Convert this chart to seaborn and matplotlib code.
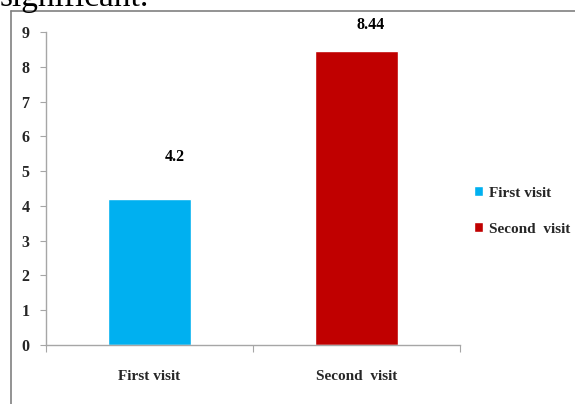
import matplotlib
matplotlib.use("Agg")
import matplotlib.pyplot as plt
from matplotlib.lines import Line2D
import pandas as pd
import seaborn as sns

# Mean scores per visit
visits = ["First visit", "Second  visit"]
scores = [4.2, 8.44]
bar_colors = ["#00B0F0", "#C00000"]
y_ticks = list(range(0, 10))

df = pd.DataFrame({"visit": visits, "score": scores})

sns.set_theme(style="white")
plt.rcParams["font.family"] = ["Liberation Serif", "DejaVu Serif"]

W, H = 575, 404
fig = plt.figure(figsize=(W / 100, H / 100), dpi=100)
fig.patch.set_facecolor("white")

# plot area in pixel units
left_px, right_px, top_px, bottom_px = 46, 460, 32, 345
ax = fig.add_axes([left_px / W, 1 - bottom_px / H,
                   (right_px - left_px) / W, (bottom_px - top_px) / H])

sns.barplot(data=df, x="visit", y="score", hue="visit",
            palette=bar_colors, width=0.4, saturation=1,
            legend=True, ax=ax)

ax.set_xlim(-0.5, 1.5)
ax.set_ylim(0, 9)
ax.set_yticks(y_ticks)
ax.set_yticklabels([str(t) for t in y_ticks], fontsize=11.5, fontweight="bold")
ax.set_xlabel("")
ax.set_ylabel("")

# category labels centred under bars, tick marks at category boundaries
ax.set_xticks([0, 1])
ax.set_xticklabels(visits, fontsize=11, fontweight="bold")
ax.set_xticks([-0.5, 0.5, 1.5], minor=True)
ax.tick_params(axis="x", which="major", length=0, pad=18)
ax.tick_params(axis="x", which="minor", length=5, width=0.8, color="#a6a6a6",
               direction="out", bottom=True)
ax.tick_params(axis="y", length=4, width=0.8, color="#a6a6a6",
               direction="out", left=True, pad=8)

for side in ["top", "right"]:
    ax.spines[side].set_visible(False)
for side in ["left", "bottom"]:
    ax.spines[side].set_color("#a6a6a6")
    ax.spines[side].set_linewidth(1.0)

# value labels above the bars
offsets = [(18, 30), (10, 19)]
for i, (v, off) in enumerate(zip(scores, offsets)):
    ax.annotate(f"{v:g}", xy=(i, v), xytext=off, textcoords="offset points",
                ha="center", va="center", fontsize=11.5, fontweight="bold",
                color="black")

# legend at the right
handles, labels = ax.get_legend_handles_labels()
leg = ax.legend(handles, visits, loc="center left",
                bbox_to_anchor=(474 / W, 1 - 211 / H),
                bbox_transform=fig.transFigure, frameon=False,
                borderpad=0, borderaxespad=0,
                handlelength=0.6, handleheight=0.6, handletextpad=0.35,
                labelspacing=1.5, prop={"family": "Liberation Serif",
                                         "weight": "bold", "size": 11})

# surrounding frame lines
frame_kw = dict(color="#808080", linewidth=1.2, transform=fig.transFigure)
fig.add_artist(Line2D([11 / W, 1.0], [1 - 11 / H, 1 - 11 / H], **frame_kw))
fig.add_artist(Line2D([11 / W, 11 / W], [0.0, 1 - 11 / H], **frame_kw))

# tail of the preceding sentence
fig.text(0.0, 1 - 6 / H, "significant.", fontsize=24, va="baseline",
         ha="left", family="Liberation Serif", color="black")

fig.savefig("out.png", dpi=100)
